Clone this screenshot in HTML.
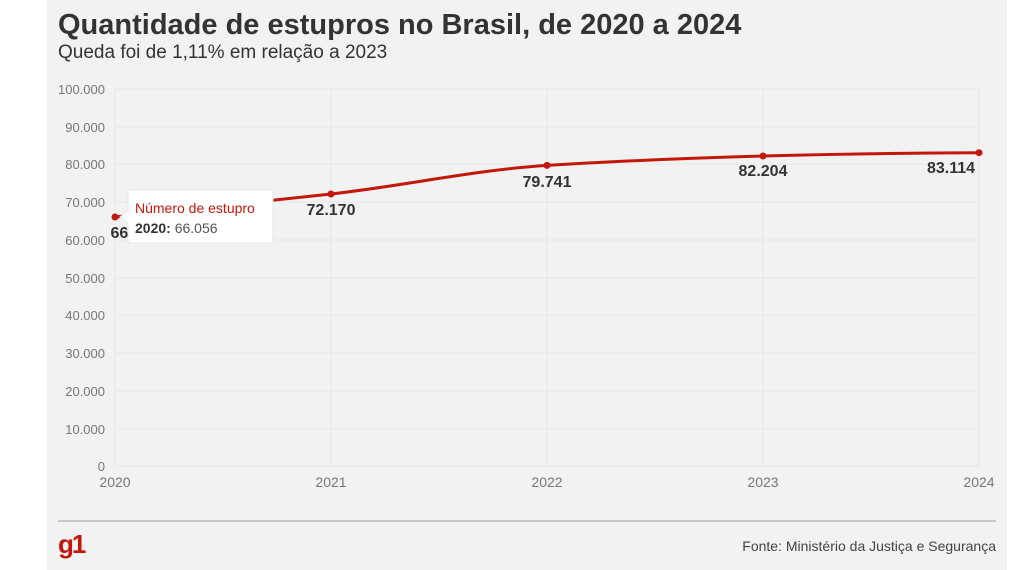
<!DOCTYPE html>
<html><head><meta charset="utf-8"><style>
body{margin:0;width:1024px;height:570px;background:#fff;overflow:hidden;font-family:"Liberation Sans",sans-serif}
</style></head><body>
<svg width="1024" height="570" xmlns="http://www.w3.org/2000/svg" style="position:absolute;left:0;top:0">
<rect x="47" y="0" width="960" height="570" fill="#f2f2f2"/>
<text x="58" y="34" font-size="29" font-weight="bold" fill="#333">Quantidade de estupros no Brasil, de 2020 a 2024</text>
<text x="58" y="58" font-size="19" fill="#333">Queda foi de 1,11% em relação a 2023</text>
<g stroke="#e8e8e8" stroke-width="1">
<line x1="115" y1="89" x2="979" y2="89"/><line x1="115" y1="127" x2="979" y2="127"/><line x1="115" y1="164" x2="979" y2="164"/><line x1="115" y1="202" x2="979" y2="202"/><line x1="115" y1="240" x2="979" y2="240"/><line x1="115" y1="278" x2="979" y2="278"/><line x1="115" y1="315" x2="979" y2="315"/><line x1="115" y1="353" x2="979" y2="353"/><line x1="115" y1="391" x2="979" y2="391"/><line x1="115" y1="429" x2="979" y2="429"/><line x1="115" y1="466" x2="979" y2="466"/>
<line x1="115" y1="89" x2="115" y2="466"/><line x1="331" y1="89" x2="331" y2="466"/><line x1="547" y1="89" x2="547" y2="466"/><line x1="763" y1="89" x2="763" y2="466"/><line x1="979" y1="89" x2="979" y2="466"/>
</g>
<g font-size="13" fill="#777" text-anchor="end">
<text x="105" y="94">100.000</text><text x="105" y="132">90.000</text><text x="105" y="169">80.000</text><text x="105" y="207">70.000</text><text x="105" y="245">60.000</text><text x="105" y="283">50.000</text><text x="105" y="320">40.000</text><text x="105" y="358">30.000</text><text x="105" y="396">20.000</text><text x="105" y="434">10.000</text><text x="105" y="471">0</text>
</g>
<g font-size="14" fill="#777" text-anchor="middle">
<text x="115" y="487">2020</text><text x="331" y="487">2021</text><text x="547" y="487">2022</text><text x="763" y="487">2023</text><text x="979" y="487">2024</text>
</g>
<path d="M115,217 C187,210 259,202 331,194 C403,186 475,170 547,165.4 C619,161 691,158 763,156 C835,154 907,153 979,152.7" fill="none" stroke="#c4170c" stroke-width="3"/>
<g fill="#c4170c"><circle cx="115" cy="217" r="3.5"/><circle cx="331" cy="194" r="3.5"/><circle cx="547" cy="165.4" r="3.5"/><circle cx="763" cy="156" r="3.5"/><circle cx="979" cy="152.7" r="3.5"/></g>
<g font-size="16" font-weight="bold" fill="#333" text-anchor="middle">
<text x="135" y="238">66.056</text><text x="331" y="215">72.170</text><text x="547" y="187">79.741</text><text x="763" y="176">82.204</text><text x="951" y="173">83.114</text>
</g>
<path d="M128,190 h145 v53 h-145 v-20 l-8,-6 l8,-6 z" fill="#fff" stroke="#e6e6e6"/>
<text x="135" y="213" font-size="14" fill="#c4170c">Número de estupro</text>
<text x="135" y="233" font-size="14" fill="#555"><tspan font-weight="bold" fill="#333">2020:</tspan> 66.056</text>
<line x1="58" y1="521" x2="996" y2="521" stroke="#c8c8c8" stroke-width="2"/>
<text x="58" y="553" font-size="26" font-weight="bold" fill="#c4170c" letter-spacing="-2">g1</text>
<text x="996" y="551" font-size="14" fill="#444" text-anchor="end">Fonte: Ministério da Justiça e Segurança</text>
</svg>
</body></html>
